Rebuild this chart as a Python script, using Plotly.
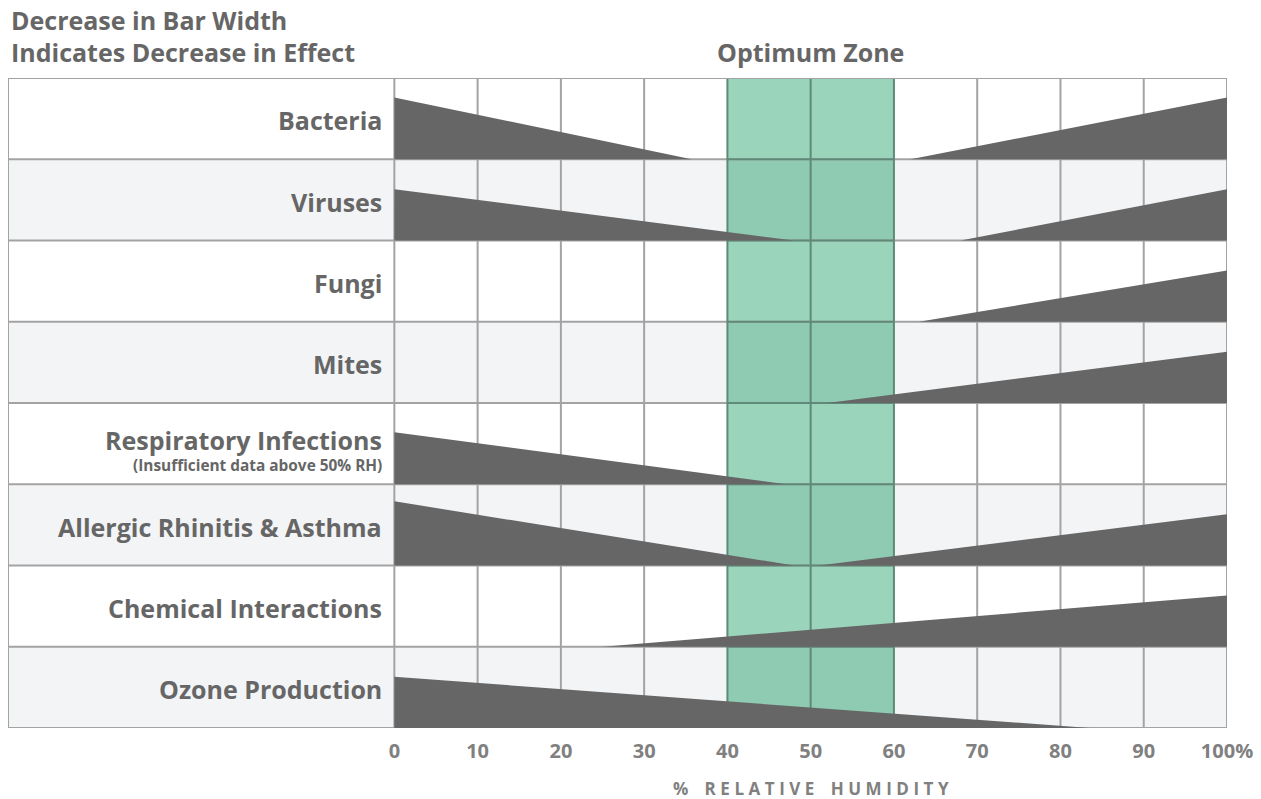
import plotly.graph_objects as go

# ---- data ----
rows = ["Bacteria", "Viruses", "Fungi", "Mites", "Respiratory Infections",
        "Allergic Rhinitis & Asthma", "Chemical Interactions", "Ozone Production"]
row_note = ["", "", "", "", "(Insufficient data above 50% RH)", "", "", ""]

# wedges: row index, x at thick end, x at thin end, thickness (fraction of row)
wedge_row = [0, 0, 1, 1, 2, 3, 4, 5, 5, 6, 7]
wedge_thick_x = [0, 100, 0, 100, 100, 100, 0, 0, 100, 100, 0]
wedge_thin_x = [35.7, 62, 48, 68, 63, 52, 47, 48, 51, 25, 83.5]
wedge_height = [0.76, 0.76, 0.63, 0.63, 0.63, 0.63, 0.64, 0.79, 0.63, 0.63, 0.63]

tick_vals = [0, 10, 20, 30, 40, 50, 60, 70, 80, 90, 100]
tick_text = ["0", "10", "20", "30", "40", "50", "60", "70", "80", "90", "100%"]
optimum = [40, 60]

XL = -46.4
N = len(rows)
TXT = "#666666"
GRID = "#a3a3a3"
GREEN_BORDER = "#5f8a79"
FONT = "Open Sans"


def ybot(i):
    return N - 1 - i


fig = go.Figure()
shapes = []
for i in range(N):
    shapes.append(dict(type="rect", xref="x", yref="y", x0=XL, x1=100, y0=ybot(i), y1=ybot(i) + 1,
                       fillcolor="#ffffff" if i % 2 == 0 else "#f3f4f6", line_width=0, layer="below"))
    shapes.append(dict(type="rect", xref="x", yref="y", x0=optimum[0], x1=optimum[1], y0=ybot(i), y1=ybot(i) + 1,
                       fillcolor="#9ad4bb" if i % 2 == 0 else "#8fcab2", line_width=0, layer="below"))
for v in tick_vals:
    if 0 < v < 100 and v not in (40, 50, 60):
        shapes.append(dict(type="line", xref="x", yref="y", x0=v, x1=v, y0=0, y1=N,
                           line=dict(color=GRID, width=2), layer="below"))
for k in range(1, N):
    shapes.append(dict(type="line", xref="x", yref="y", x0=XL, x1=100, y0=k, y1=k,
                       line=dict(color=GRID, width=2), layer="below"))
    shapes.append(dict(type="line", xref="x", yref="y", x0=optimum[0], x1=optimum[1], y0=k, y1=k,
                       line=dict(color=GREEN_BORDER, width=2), layer="below"))
for v in (40, 50, 60):
    shapes.append(dict(type="line", xref="x", yref="y", x0=v, x1=v, y0=0, y1=N,
                       line=dict(color=GREEN_BORDER, width=2), layer="below"))
shapes.append(dict(type="line", xref="x", yref="y", x0=0, x1=0, y0=0, y1=N,
                   line=dict(color=GRID, width=2), layer="below"))
shapes.append(dict(type="rect", xref="x", yref="y", x0=XL, x1=100, y0=0, y1=N,
                   line=dict(color=GRID, width=2), fillcolor="rgba(0,0,0,0)", layer="below"))

for r, xt, xn, h in zip(wedge_row, wedge_thick_x, wedge_thin_x, wedge_height):
    b = ybot(r)
    fig.add_trace(go.Scatter(x=[xt, xt, xn, xt], y=[b, b + h, b, b], mode="lines",
                             fill="toself", fillcolor="#666666", line=dict(width=0, color="#666666"),
                             hoverinfo="skip", showlegend=False))

LBL = 25
ann = []
for i, (name, note) in enumerate(zip(rows, row_note)):
    yc = ybot(i) + 0.5
    if note:
        ann.append(dict(x=-1.3, y=yc + 0.05, text="<b>" + name + "</b>", xanchor="right", yanchor="middle",
                        showarrow=False, font=dict(size=LBL, color=TXT, family=FONT)))
        ann.append(dict(x=-1.3, y=yc - 0.27, text="<b>" + note + "</b>", xanchor="right", yanchor="middle",
                        showarrow=False, font=dict(size=15.4, color=TXT, family=FONT)))
    else:
        ann.append(dict(x=-1.3, y=yc - 0.02, text="<b>" + name + "</b>", xanchor="right", yanchor="middle",
                        showarrow=False, font=dict(size=LBL, color=TXT, family=FONT)))

PT, PB, PH = 78, 728, 650.0


def py(y_px):
    return (PB - y_px) / PH


ann.append(dict(xref="paper", yref="paper", x=1 / 1221, y=py(20), text="<b>Decrease in Bar Width</b>",
                xanchor="left", yanchor="middle", showarrow=False, font=dict(size=25, color=TXT, family=FONT)))
ann.append(dict(xref="paper", yref="paper", x=1 / 1221, y=py(52), text="<b>Indicates Decrease in Effect</b>",
                xanchor="left", yanchor="middle", showarrow=False, font=dict(size=25, color=TXT, family=FONT)))
ann.append(dict(xref="x", yref="paper", x=50, y=py(52), text="<b>Optimum Zone</b>", xanchor="center",
                yanchor="middle", showarrow=False, font=dict(size=25, color=TXT, family=FONT)))
axis_title = "\u2009\u200a".join("% RELATIVE HUMIDITY").replace(" ", "\u2009 ")
ann.append(dict(xref="x", yref="paper", x=50, y=py(788), text="<b>" + axis_title + "</b>",
                xanchor="center", yanchor="middle", showarrow=False,
                font=dict(size=17, color="#808080", family=FONT)))

fig.update_layout(
    width=1261, height=799,
    margin=dict(l=8, r=32, t=PT, b=799 - PB),
    paper_bgcolor="white", plot_bgcolor="white",
    shapes=shapes, annotations=ann,
    xaxis=dict(range=[XL, 100], tickvals=tick_vals, ticktext=["<b>" + t + "</b>" for t in tick_text],
               showgrid=False, zeroline=False, showline=False, ticks="", ticklabelstandoff=9,
               ticklabeloverflow="allow",
               tickfont=dict(size=20, color="#808080", family=FONT), fixedrange=True),
    yaxis=dict(range=[0, N], showgrid=False, zeroline=False, showline=False, showticklabels=False,
               fixedrange=True),
)
fig.write_html("out.html", config={"displayModeBar": False},
               post_script="document.body.style.margin='0';document.body.style.overflow='hidden';")
